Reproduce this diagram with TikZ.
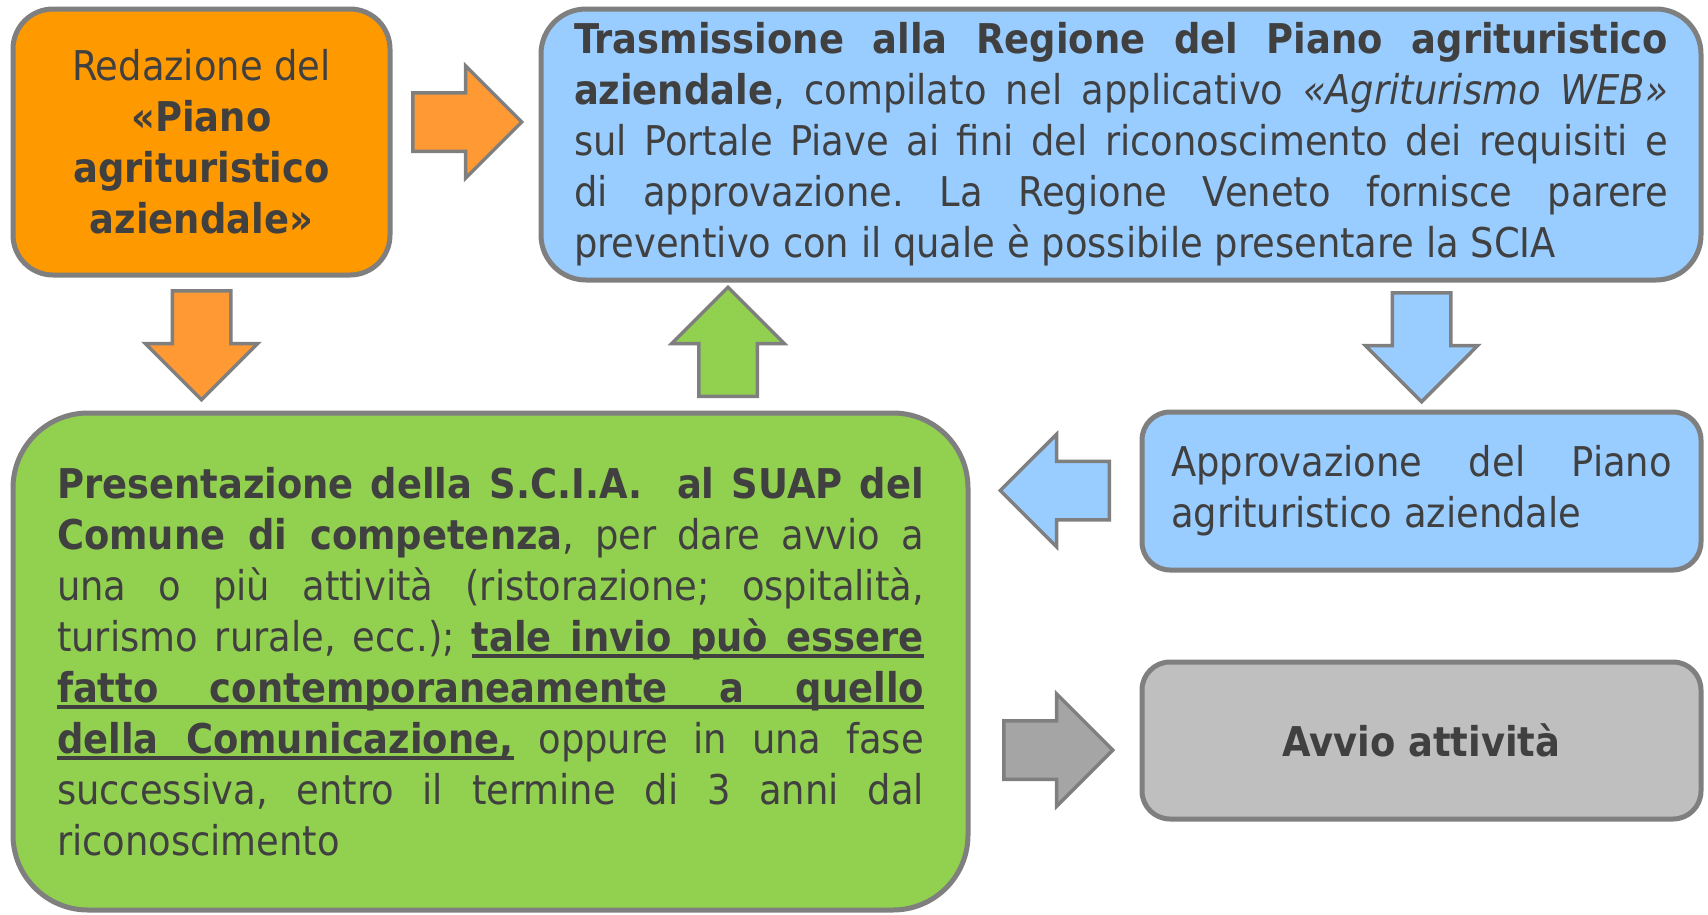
\documentclass[tikz,border=0pt]{standalone}
\usepackage{fontspec}
\setmainfont{DejaVu Sans Condensed}
\usetikzlibrary{shapes.arrows}
\definecolor{boxline}{HTML}{7F7F7F}
\definecolor{txtgray}{HTML}{404040}
\definecolor{orangebox}{HTML}{FF9900}
\definecolor{orangearrow}{HTML}{FF9933}
\definecolor{bluebox}{HTML}{99CCFF}
\definecolor{greenbox}{HTML}{92D050}
\definecolor{graybox}{HTML}{BFBFBF}
\definecolor{grayarrow}{HTML}{A5A5A5}
\frenchspacing

% sottolineatura che segue gli spazi giustificati
\newcommand\ulw[1]{\setbox0\hbox{#1}\rlap{\vrule height -3pt depth 7pt width \wd0}\box0}
\newcommand\uls{\leaders\hrule height -3pt depth 7pt\hskip\fontdimen2\font plus\fontdimen3\font minus\fontdimen4\font\relax}

\tikzset{
  stepbox/.style={draw=boxline, line width=5pt, text=txtgray,
    font=\fontsize{41}{51}\selectfont, inner sep=0pt},
  bigarrow/.style={single arrow, draw=boxline, line width=3.5pt,
    single arrow head extend=27pt, single arrow tip angle=90,
    minimum height=109pt, inner sep=27.5pt, anchor=tail},
}

\begin{document}
\begin{tikzpicture}[x=1pt,y=-1pt]
\useasboundingbox (0,0) rectangle (1708,914);

% caselle
\node[stepbox, fill=orangebox, rounded corners=40pt, minimum width=377pt,
  minimum height=266pt, align=center] (redaz) at (201.5,142)
  {Redazione del\\ \textbf{«Piano}\\ \textbf{agrituristico}\\ \textbf{aziendale»}};

\node[stepbox, fill=bluebox, rounded corners=45pt, minimum width=1160pt,
  minimum height=271pt, text width=1094pt, align=justify] (trasm) at (1121,144.5)
  {\textbf{Trasmissione alla Regione del Piano agrituristico}\linebreak
   \textbf{aziendale}, compilato nel applicativo \textit{«Agriturismo WEB»}\linebreak
   sul Portale Piave ai fini del riconoscimento dei requisiti e\linebreak
   di approvazione. La Regione Veneto fornisce parere\linebreak
   preventivo con il quale è possibile presentare la SCIA};

\node[stepbox, fill=greenbox, rounded corners=75pt, minimum width=955pt,
  minimum height=497pt, text width=867pt, align=justify] (scia) at (490.5,661.5)
  {\textbf{Presentazione della S.C.I.A.\ \ al SUAP del}\linebreak
   \textbf{Comune di competenza}, per dare avvio a\linebreak
   una o più attività (ristorazione; ospitalità,\linebreak
   turismo rurale, ecc.); \textbf{\ulw{tale}\uls\ulw{invio}\uls\ulw{può}\uls\ulw{essere}}\linebreak
   \textbf{\ulw{fatto}\uls\ulw{contemporaneamente}\uls\ulw{a}\uls\ulw{quello}}\linebreak
   \textbf{\ulw{della}\uls\ulw{Comunicazione,}} oppure in una fase\linebreak
   successiva, entro il termine di 3 anni dal\linebreak
   riconoscimento};

\node[stepbox, fill=bluebox, rounded corners=28pt, minimum width=559pt,
  minimum height=158pt, text width=501pt, align=justify] (approv) at (1421.5,491)
  {Approvazione del Piano\linebreak agrituristico aziendale};

\node[stepbox, fill=graybox, rounded corners=28pt, minimum width=559pt,
  minimum height=157pt, font=\fontsize{41}{51}\selectfont\bfseries] (avvio) at (1421.5,740.5)
  {Avvio attività};

% frecce
\node[bigarrow, fill=orangearrow] (fr1) at (411,122) {};
\node[bigarrow, fill=orangearrow, shape border rotate=270] (fr2) at (201.5,289) {};
\node[bigarrow, fill=greenbox, shape border rotate=90] (fr3) at (728,398) {};
\node[bigarrow, fill=bluebox, shape border rotate=270] (fr4) at (1421.5,291) {};
\node[bigarrow, fill=bluebox, shape border rotate=180] (fr5) at (1111,490.5) {};
\node[bigarrow, fill=grayarrow] (fr6) at (1002,750) {};
\end{tikzpicture}
\end{document}
